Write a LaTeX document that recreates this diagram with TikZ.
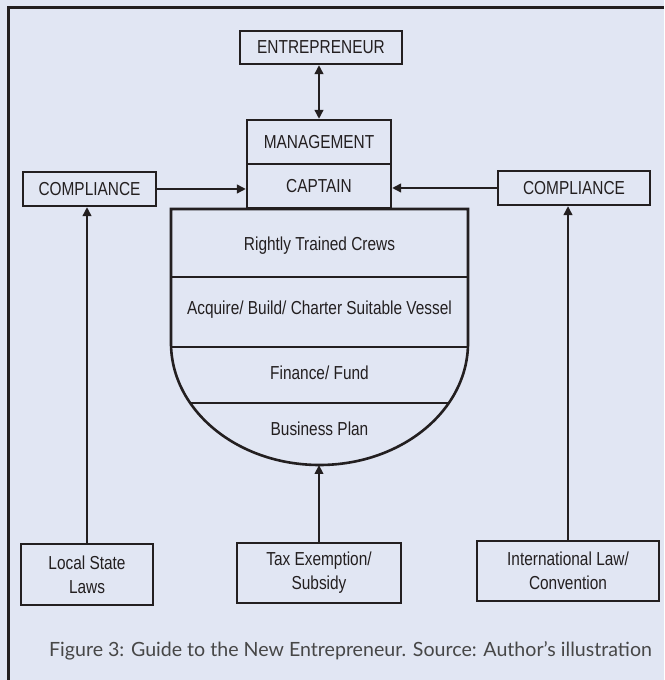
\documentclass[tikz,border=0pt]{standalone}
\usepackage{fontspec}
\setmainfont{Liberation Sans}[FakeStretch=0.82]
\newfontfamily\capfont{Lato}
\usetikzlibrary{arrows.meta}
\definecolor{bgblue}{RGB}{225,230,243}
\definecolor{ink}{RGB}{35,31,32}

\begin{document}
\begin{tikzpicture}[x=1pt,y=1pt,>={Triangle[length=9pt,width=8.5pt]},
    box/.style={draw=ink,line width=2.2pt,inner sep=0pt,align=center,
      font=\fontsize{18.8}{24}\selectfont,text=ink},
    lbl/.style={font=\fontsize{18.8}{24}\selectfont,text=ink},
    link/.style={draw=ink,line width=2.8pt,->}]
  \fill[bgblue] (0,0) rectangle (664,680);
  \useasboundingbox (0,0) rectangle (664,680);
  \draw[ink,line width=2.2pt] (8.5,0) -- (8.5,672.5) -- (664,672.5);

  % top of the ship
  \node[box,minimum width=162pt,minimum height=33pt] (entre) at (321,632.5) {ENTREPRENEUR};
  \node[box,minimum width=144pt,minimum height=44pt] (mgmt) at (319,538) {MANAGEMENT};
  \node[box,minimum width=144pt,minimum height=44pt] (capt) at (319,494) {CAPTAIN};
  \node[box,minimum width=133pt,minimum height=34pt] (compL) at (89.5,491) {COMPLIANCE};
  \node[box,minimum width=152pt,minimum height=34pt] (compR) at (574,492) {COMPLIANCE};

  % hull
  \begin{scope}
    \clip (171,471) -- (468,471) -- (468,337)
      arc[start angle=0,end angle=-180,x radius=148.5,y radius=122] -- cycle;
    \foreach \yy in {403,333,277}
      \draw[ink,line width=1.6pt] (160,\yy) -- (480,\yy);
  \end{scope}
  \draw[ink,line width=2.6pt] (171,471) -- (468,471) -- (468,337)
    arc[start angle=0,end angle=-180,x radius=148.5,y radius=122] -- cycle;
  \coordinate (keel) at (319.5,215);
  \node[lbl] (crews) at (319.5,434) {Rightly Trained Crews};
  \node[lbl] (vessel) at (319.5,370) {Acquire/ Build/ Charter Suitable Vessel};
  \node[lbl] (fund) at (319.5,307) {Finance/ Fund};
  \node[lbl] (plan) at (319.5,251) {Business Plan};

  % bottom boxes
  \node[box,minimum width=132pt,minimum height=61pt] (local) at (87,105.5) {Local State\\Laws};
  \node[box,minimum width=164pt,minimum height=60pt] (tax) at (319,107) {Tax Exemption/\\Subsidy};
  \node[box,minimum width=182pt,minimum height=60pt] (intl) at (568,109) {International Law/\\Convention};

  \draw[link,<->] (mgmt.north) -- (mgmt.north |- entre.south);
  \draw[link] (compL.east) -- (compL.east -| capt.west);
  \draw[link] (compR.west) -- (compR.west -| capt.east);
  \draw[link] (local.north) -- (local.north |- compL.south);
  \draw[link] (tax.north) -- (tax.north |- keel);
  \draw[link] (intl.north) -- (intl.north |- compR.south);

  \node[font=\capfont\fontsize{19.6}{22}\selectfont,text=black!72] (cap) at (350.5,29)
    {Figure 3: Guide to the New Entrepreneur. Source: Author’s illustration};
\end{tikzpicture}
\end{document}
